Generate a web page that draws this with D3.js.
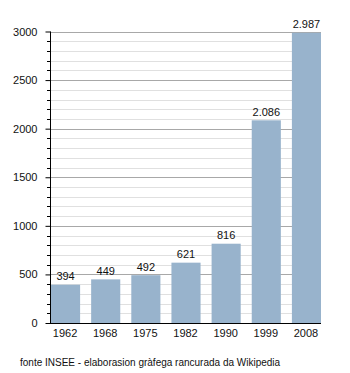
<!DOCTYPE html>
<html>
<head>
<meta charset="utf-8">
<script src="https://cdn.jsdelivr.net/npm/d3@7"></script>
<style>
  html, body { margin: 0; padding: 0; background: #fff; }
  svg { display: block; font-family: "Liberation Sans", Arial, sans-serif; }
</style>
</head>
<body>
<svg id="chart" width="350" height="373"></svg>
<script>
// Population by census year
const years = ["1962", "1968", "1975", "1982", "1990", "1999", "2008"];
const population = [394, 449, 492, 621, 816, 2086, 2987];
const majorTicks = [0, 500, 1000, 1500, 2000, 2500, 3000];
const sourceNote = "fonte INSEE - elaborasion gràfega rancurada da Wikipedia";

const svg = d3.select("#chart");
const plotLeft = 50, plotRight = 321, plotTop = 31.5, plotBottom = 323;

const x = d3.scaleBand().domain(years).range([plotLeft, plotRight])
  .paddingInner(0.25).paddingOuter(0);
const y = d3.scaleLinear().domain([0, 3000]).range([plotBottom, plotTop]);

const fmt = d3.formatLocale({ decimal: ",", thousands: ".", grouping: [3], currency: ["", ""] }).format(",d");

// Minor gridlines every 100
const minor = d3.range(100, 3001, 100).filter(v => v % 500 !== 0);
svg.append("g").selectAll("line").data(minor).join("line")
  .attr("x1", plotLeft).attr("x2", plotRight)
  .attr("y1", d => Math.round(y(d)) + 0.5).attr("y2", d => Math.round(y(d)) + 0.5)
  .attr("stroke", "#e0e0e0").attr("stroke-width", 1);

// Major gridlines every 500
svg.append("g").selectAll("line").data(majorTicks.filter(d => d > 0)).join("line")
  .attr("x1", plotLeft).attr("x2", plotRight)
  .attr("y1", d => Math.round(y(d)) + 0.5).attr("y2", d => Math.round(y(d)) + 0.5)
  .attr("stroke", "#a8a8a8").attr("stroke-width", 1);

// Bars
svg.append("g").selectAll("rect").data(years).join("rect")
  .attr("x", d => x(d) + 1)
  .attr("width", x.bandwidth() - 1)
  .attr("y", (d, i) => y(population[i]))
  .attr("height", (d, i) => plotBottom - y(population[i]))
  .attr("fill", "#98b3cc");

// Value labels
svg.append("g").selectAll("text").data(years).join("text")
  .attr("x", d => x(d) + x.bandwidth() / 2 + 0.5)
  .attr("y", (d, i) => y(population[i]) - 4.5)
  .attr("text-anchor", "middle")
  .attr("font-size", 11)
  .attr("fill", "#111")
  .text((d, i) => fmt(population[i]));

// Y axis: minor ticks
svg.append("g").selectAll("line").data(minor).join("line")
  .attr("x1", plotLeft - 3).attr("x2", plotLeft)
  .attr("y1", d => Math.round(y(d)) + 0.5).attr("y2", d => Math.round(y(d)) + 0.5)
  .attr("stroke", "#000");

// Y axis: major ticks and labels
const yAxis = d3.axisLeft(y).tickValues(majorTicks).tickSize(5).tickPadding(8).tickFormat(d3.format("d"));
const gy = svg.append("g").attr("transform", `translate(${plotLeft + 0.5},0)`).call(yAxis);
gy.select(".domain").attr("d", `M0,${plotTop}V${plotBottom}`).attr("stroke", "#000");
gy.selectAll(".tick text").attr("font-size", 11).attr("fill", "#111")
  .attr("font-family", "Liberation Sans, Arial, sans-serif");
gy.selectAll(".tick line").attr("stroke", "#000");

// X axis
const xAxis = d3.axisBottom(x).tickSize(0).tickPadding(6);
const gx = svg.append("g").attr("transform", `translate(0,${plotBottom + 0.5})`).call(xAxis);
gx.select(".domain").attr("d", `M${plotLeft},0H${plotRight}`).attr("stroke", "#000");
gx.selectAll(".tick text").attr("font-size", 11).attr("fill", "#111")
  .attr("font-family", "Liberation Sans, Arial, sans-serif");

// Source note
svg.append("text")
  .attr("x", 20).attr("y", 366)
  .attr("font-size", 10).attr("fill", "#111")
  .text(sourceNote);
</script>
</body>
</html>
